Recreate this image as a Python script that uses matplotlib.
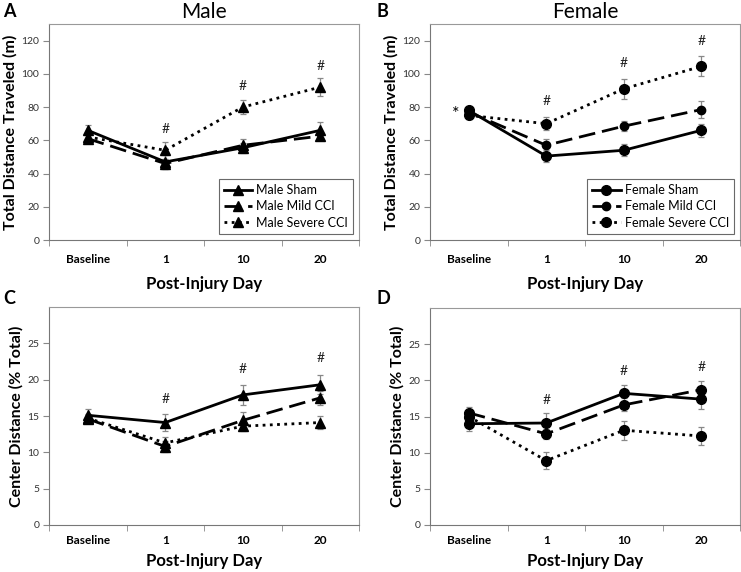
import numpy as np
import matplotlib.pyplot as plt

plt.rcParams['font.family'] = ['Lato', 'DejaVu Sans']

days = ["Baseline", "1", "10", "20"]

# panel A - male total distance (m)
male_sham = [66, 47, 55.5, 66]
male_sham_err = [3, 4, 3, 5]
male_mild = [61, 46, 57, 62.5]
male_mild_err = [2, 3, 4, 2]
male_sev = [62, 54, 80, 92]
male_sev_err = [2, 5, 4, 5.5]

# panel B - female total distance (m)
fem_sham = [78, 50.5, 54, 66]
fem_sham_err = [2, 3.5, 3.5, 4]
fem_mild = [77, 57, 68.5, 78.5]
fem_mild_err = [2, 4, 3, 5]
fem_sev = [75, 70, 91, 104.5]
fem_sev_err = [2, 4, 6, 6]

# panel C - male center distance (% total)
male_c_sham = [15.1, 14.1, 17.9, 19.3]
male_c_sham_err = [0.9, 1.2, 1.4, 1.3]
male_c_mild = [14.6, 10.8, 14.4, 17.5]
male_c_mild_err = [0.6, 0.8, 1.1, 1.0]
male_c_sev = [14.7, 11.3, 13.6, 14.1]
male_c_sev_err = [0.6, 0.8, 0.7, 0.9]

# panel D - female center distance (% total)
fem_c_sham = [14.0, 14.1, 18.2, 17.4]
fem_c_sham_err = [1.0, 1.4, 1.2, 1.3]
fem_c_mild = [15.5, 12.6, 16.6, 18.7]
fem_c_mild_err = [0.8, 0.7, 0.9, 1.2]
fem_c_sev = [15.0, 8.9, 13.1, 12.3]
fem_c_sev_err = [0.9, 1.2, 1.3, 1.2]

# "#" marks: (day index, y)
hash_a = [(1, 63), (2, 89), (3, 101)]
hash_b = [(1, 80), (2, 103), (3, 116)]
hash_c = [(1, 16.5), (2, 20.7), (3, 22.1)]
hash_d = [(1, 16.4), (2, 20.5), (3, 21.0)]

fig = plt.figure(figsize=(7.41, 5.72), dpi=100)
W, H = 741, 572


def make_ax(l, r, t, b):
    return fig.add_axes([l / W, 1 - b / H, (r - l) / W, (b - t) / H])


def style(ax, ymax, ystep, ylabel, xpad, lpad):
    x = np.arange(len(days))
    ax.set_xlim(-0.5, 3.5)
    ax.set_ylim(0, ymax)
    ax.set_yticks(np.arange(0, ymax, ystep))
    ax.set_xticks(x)
    ax.set_xticklabels(days, fontweight='bold', fontsize=8.5)
    ax.set_xticks(np.arange(-0.5, 4, 1), minor=True)
    ax.tick_params(axis='x', which='major', length=0, pad=xpad)
    ax.tick_params(axis='x', which='minor', length=4, color='#888888')
    ax.tick_params(axis='y', length=4, labelsize=7.5, labelcolor='#333333',
                   color='#888888', pad=3)
    for s in ax.spines.values():
        s.set_color('#999999')
        s.set_linewidth(0.8)
    ax.spines['left'].set_color('#777777')
    ax.spines['bottom'].set_color('#777777')
    ax.set_xlabel("Post-Injury Day", fontweight='bold', fontsize=12, labelpad=lpad)
    ax.set_ylabel(ylabel, fontweight='bold', fontsize=11.5, labelpad=3)


def series(ax, vals, errs, ls, marker, label, ms):
    x = np.arange(len(days))
    ax.errorbar(x, vals, yerr=errs, fmt='none', ecolor='#888888', elinewidth=0.9,
                capsize=2.5, capthick=0.9, zorder=2)
    ax.plot(x, vals, color='black', linestyle=ls, linewidth=2, marker=marker,
            markersize=ms, label=label, zorder=3)


def hashes(ax, marks):
    for i, y in marks:
        ax.text(i, y, "#", ha='center', va='bottom', fontsize=10, color='#222222')


def add_legend(ax):
    leg = ax.legend(loc='lower right', fontsize=9, frameon=True, fancybox=False,
                    edgecolor='#444444', handlelength=2.3, borderpad=0.4,
                    labelspacing=0.35, handletextpad=0.3)
    leg.get_frame().set_linewidth(0.8)


ls_sham = '-'
ls_mild = (0, (6, 2.5))
ls_sev = (0, (1, 1.6))

# A
axA = make_ax(49, 359, 24, 240)
series(axA, male_sham, male_sham_err, ls_sham, '^', "Male Sham", 7)
series(axA, male_mild, male_mild_err, ls_mild, '^', "Male Mild CCI", 7)
series(axA, male_sev, male_sev_err, ls_sev, '^', "Male Severe CCI", 7)
hashes(axA, hash_a)
style(axA, 130, 20, "Total Distance Traveled (m)", 10, 8)
axA.set_title("Male", fontsize=15, pad=4)
add_legend(axA)

# B
axB = make_ax(430, 740, 24, 240)
series(axB, fem_sham, fem_sham_err, ls_sham, 'o', "Female Sham", 7)
series(axB, fem_mild, fem_mild_err, ls_mild, 'o', "Female Mild CCI", 6)
series(axB, fem_sev, fem_sev_err, ls_sev, 'o', "Female Severe CCI", 7)
hashes(axB, hash_b)
axB.text(-0.17, 76, "*", ha='center', va='center', fontsize=13)
style(axB, 130, 20, "Total Distance Traveled (m)", 10, 8)
axB.set_title("Female", fontsize=15, pad=4)
add_legend(axB)

# C
axC = make_ax(49, 359, 307, 525)
series(axC, male_c_sham, male_c_sham_err, ls_sham, '^', "Male Sham", 7)
series(axC, male_c_mild, male_c_mild_err, ls_mild, '^', "Male Mild CCI", 7)
series(axC, male_c_sev, male_c_sev_err, ls_sev, '^', "Male Severe CCI", 7)
hashes(axC, hash_c)
style(axC, 30, 5, "Center Distance (% Total)", 7, 5)

# D
axD = make_ax(430, 740, 308, 525)
series(axD, fem_c_sham, fem_c_sham_err, ls_sham, 'o', "Female Sham", 7)
series(axD, fem_c_mild, fem_c_mild_err, ls_mild, 'o', "Female Mild CCI", 7)
series(axD, fem_c_sev, fem_c_sev_err, ls_sev, 'o', "Female Severe CCI", 7)
hashes(axD, hash_d)
style(axD, 30, 5, "Center Distance (% Total)", 7, 5)

for lab, (px, py) in zip("ABCD", [(3, 3), (377, 3), (3, 290), (377, 290)]):
    fig.text(px / W, 1 - py / H, lab, fontsize=13, fontweight='bold',
             ha='left', va='top')

fig.savefig("out.png", dpi=100)
